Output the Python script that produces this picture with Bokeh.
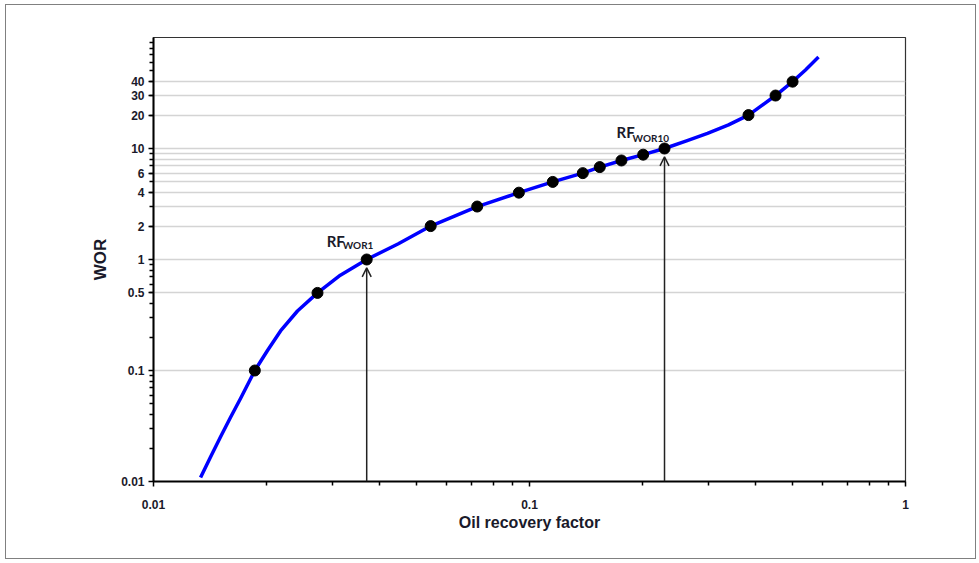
from bokeh.plotting import figure
from bokeh.models import (FixedTicker, CustomJSTickFormatter, Arrow, OpenHead, Label,
                          InlineStyleSheet)
from bokeh.embed import file_html
from bokeh.resources import INLINE

# ---- data ----
curve_rf = [0.01334, 0.01418, 0.01507, 0.01602, 0.01704, 0.0186, 0.0201, 0.02177,
            0.02415, 0.0273, 0.0314, 0.0369, 0.0448, 0.0546, 0.0726, 0.0937,
            0.1153, 0.1386, 0.1538, 0.1756, 0.2006, 0.2286, 0.2616, 0.2974,
            0.3383, 0.3823, 0.4512, 0.5008, 0.542, 0.587]
curve_wor = [0.01086, 0.01663, 0.02518, 0.03772, 0.05594, 0.1, 0.1514, 0.227,
             0.3436, 0.5, 0.7224, 1.0, 1.388, 2, 3, 4, 5, 6, 6.8, 7.8, 8.8, 10,
             11.71, 13.71, 16.31, 20, 30, 40, 50.95, 66.7]

point_rf = [0.0186, 0.0273, 0.0369, 0.0546, 0.0726, 0.0937, 0.1153, 0.1386,
            0.1538, 0.1756, 0.2006, 0.2286, 0.3823, 0.4512, 0.5008]
point_wor = [0.1, 0.5, 1, 2, 3, 4, 5, 6, 6.8, 7.8, 8.8, 10, 20, 30, 40]

rf_wor1 = 0.0369
rf_wor10 = 0.2286
wor1 = 1
wor10 = 10

x_major_ticks = [0.01, 0.1, 1]
x_minor_ticks = [0.02, 0.03, 0.04, 0.05, 0.06, 0.07, 0.08, 0.09,
                 0.2, 0.3, 0.4, 0.5, 0.6, 0.7, 0.8, 0.9]
y_major_ticks = [0.01, 0.1, 0.5, 1, 2, 4, 6, 10, 20, 30, 40]
y_minor_ticks = [0.02, 0.03, 0.04, 0.05, 0.06, 0.07, 0.08, 0.09,
                 0.2, 0.3, 0.4, 0.5, 0.6, 0.7, 0.8, 0.9,
                 2, 3, 4, 5, 6, 7, 8, 9, 20, 30, 40, 50, 60, 70, 80, 90]
y_grid_values = [0.1, 0.5, 1, 2, 3, 4, 5, 6, 7, 8, 9, 10, 20, 30, 40]

x_title = "Oil recovery factor"
y_title = "WOR"

# ---- figure ----
p = figure(width=979, height=563, x_axis_type="log", y_axis_type="log",
           x_range=(0.01, 1), y_range=(0.01, 100),
           output_backend="svg", toolbar_location=None,
           min_border_left=153, min_border_right=74,
           min_border_top=37, min_border_bottom=82)

# outer picture frame (thin grey border around the whole image)
p.stylesheets = [InlineStyleSheet(css=(
    ":host::after { content: ''; position: absolute; left: 5px; top: 4px; "
    "right: 3px; bottom: 4px; border: 1px solid #808080; "
    "pointer-events: none; z-index: 100; }"))]

p.background_fill_color = "white"
p.border_fill_color = "white"
p.outline_line_color = "#333333"
p.outline_line_width = 1.2

p.xgrid.visible = False
p.ygrid.ticker = FixedTicker(ticks=y_grid_values)
p.ygrid.grid_line_color = "#d4d4d4"
p.ygrid.grid_line_width = 1.5

fmt_code = "return String(tick);"
label_color = "#1a1a2a"

p.xaxis.ticker = FixedTicker(ticks=x_major_ticks, minor_ticks=x_minor_ticks)
p.yaxis.ticker = FixedTicker(ticks=y_major_ticks, minor_ticks=y_minor_ticks)
for ax in (p.xaxis[0], p.yaxis[0]):
    ax.formatter = CustomJSTickFormatter(code=fmt_code)
    ax.axis_line_color = "black"
    ax.axis_line_width = 2
    ax.major_tick_line_color = "black"
    ax.minor_tick_line_color = "black"
    ax.major_tick_line_width = 1.5
    ax.minor_tick_line_width = 1.5
    ax.major_tick_in = 0
    ax.major_tick_out = 5
    ax.minor_tick_in = 0
    ax.minor_tick_out = 4
    ax.major_label_text_font = "Liberation Sans"
    ax.major_label_text_font_style = "bold"
    ax.major_label_text_font_size = "12px"
    ax.major_label_text_color = label_color
    ax.axis_label_text_font = "Liberation Sans"
    ax.axis_label_text_font_style = "bold"
    ax.axis_label_text_color = label_color

p.xaxis.axis_label = x_title
p.xaxis.axis_label_text_font_size = "16px"
p.xaxis.major_label_standoff = 13
p.xaxis.axis_label_standoff = 2

p.yaxis.axis_label = y_title
p.yaxis.axis_label_text_font_size = "17px"
p.yaxis.major_label_standoff = 4
p.yaxis.axis_label_standoff = 8

# curve and points
p.line(curve_rf, curve_wor, line_color="#0000ff", line_width=3.5, line_join="round")
p.scatter(point_rf, point_wor, size=11, fill_color="black", line_color="black")

# arrows
for xv, wv in ((rf_wor1, wor1), (rf_wor10, wor10)):
    p.add_layout(Arrow(end=OpenHead(size=9, line_width=1.5, line_color="#222222"),
                       x_start=xv, y_start=0.01, x_end=xv, y_end=wv * 0.84,
                       line_width=1.5, line_color="#222222"))

# RF labels
lab_font = "Lato"
for xv, wv, sub, dx1, dy1, dx2, dy2 in ((rf_wor1, wor1, "WOR1", -40, 19, -24, 15),
                                        (rf_wor10, wor10, "WOR10", -48, 17, -32, 11)):
    p.add_layout(Label(x=xv, y=wv, x_offset=dx1, y_offset=dy1, text="RF",
                       text_font=lab_font, text_font_style="bold",
                       text_font_size="15px", text_color=label_color,
                       text_baseline="alphabetic", text_align="left"))
    p.add_layout(Label(x=xv, y=wv, x_offset=dx2, y_offset=dy2, text=sub,
                       text_font=lab_font, text_font_style="bold",
                       text_font_size="10px", text_color=label_color,
                       text_baseline="alphabetic", text_align="left"))

open("out.html", "w").write(file_html(p, INLINE))
